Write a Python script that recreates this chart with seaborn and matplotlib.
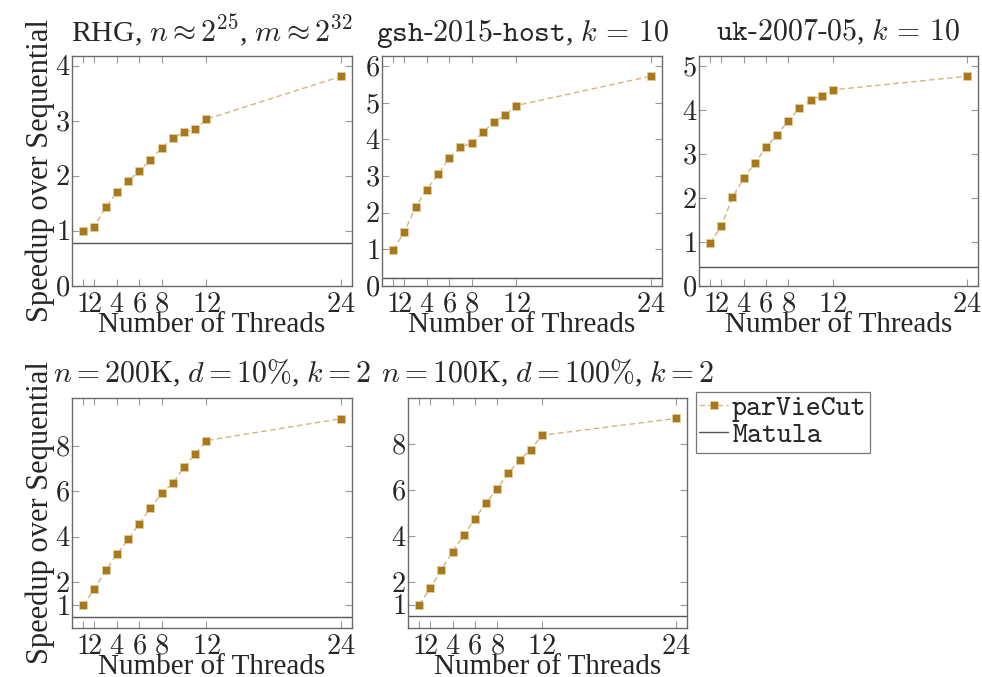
import matplotlib
matplotlib.use("Agg")
import matplotlib.pyplot as plt
import seaborn as sns
from matplotlib.lines import Line2D

# Thread counts and measured speedups over the sequential baseline
threads = [1, 2, 3, 4, 5, 6, 7, 8, 9, 10, 11, 12, 24]
xtick_vals = [1, 2, 4, 6, 8, 12, 24]

titles = [
    r"RHG, $n \approx 2^{25}$, $m \approx 2^{32}$",
    r"$\mathtt{gsh\text{-}2015\text{-}host}$, $k\,=\,10$",
    r"$\mathtt{uk\text{-}2007\text{-}05}$, $k\,=\,10$",
    r"$n = 200\mathrm{K}$, $d = 10\%$, $k = 2$",
    r"$n = 100\mathrm{K}$, $d = 100\%$, $k = 2$",
]

speedup_rhg = [1.00, 1.08, 1.43, 1.70, 1.90, 2.09, 2.29, 2.51, 2.69, 2.79, 2.85, 3.03, 3.81]
speedup_gsh = [0.99, 1.47, 2.15, 2.63, 3.04, 3.50, 3.78, 3.90, 4.19, 4.47, 4.66, 4.92, 5.72]
speedup_uk = [0.98, 1.36, 2.02, 2.45, 2.79, 3.15, 3.44, 3.76, 4.05, 4.23, 4.33, 4.46, 4.77]
speedup_200k = [1.00, 1.70, 2.53, 3.23, 3.90, 4.57, 5.26, 5.91, 6.35, 7.08, 7.63, 8.23, 9.19]
speedup_100k = [1.02, 1.72, 2.54, 3.32, 4.04, 4.76, 5.44, 6.06, 6.74, 7.30, 7.76, 8.38, 9.11]

matula = [0.78, 0.22, 0.43, 0.50, 0.53]

yticks = [
    [0, 1, 2, 3, 4],
    [0, 1, 2, 3, 4, 5, 6],
    [0, 1, 2, 3, 4, 5],
    [1, 2, 4, 6, 8],
    [1, 2, 4, 6, 8],
]
ymax = [4.18, 6.27, 5.23, 10.1, 10.0]

series = [speedup_rhg, speedup_gsh, speedup_uk, speedup_200k, speedup_100k]

sns.set_theme(style="white")
plt.rcParams["font.family"] = ["Liberation Serif", "DejaVu Serif"]
plt.rcParams["mathtext.fontset"] = "cm"

W, H = 982, 677
fig = plt.figure(figsize=(W / 100, H / 100), dpi=100)

# panel boxes in pixels: left, top, right, bottom
boxes = [
    (72, 56, 352, 286),
    (382, 56, 662, 286),
    (699, 56, 978, 286),
    (72, 398, 352, 628),
    (408, 398, 687, 628),
]

mark_color = "#a8781c"
mark_edge = "#e6cfa0"
line_color = "#d4b47c"
matula_color = "#555555"
spine_color = "#6a6a6a"
dash = (0, (4, 2.5))

for i, (l, t, r, b) in enumerate(boxes):
    ax = fig.add_axes([l / W, 1 - b / H, (r - l) / W, (b - t) / H])
    sns.lineplot(
        x=threads, y=series[i], ax=ax,
        color=line_color, linestyle=dash, linewidth=1.0,
        marker="s", markersize=5.3, markerfacecolor=mark_color,
        markeredgecolor=mark_edge, markeredgewidth=0.5,
    )
    ax.axhline(matula[i], color=matula_color, linewidth=1.0)
    ax.set_xlim(0, 25)
    ax.set_ylim(0, ymax[i])
    ax.set_xticks(xtick_vals, labels=[f"${v}$" for v in xtick_vals])
    ax.set_yticks(yticks[i], labels=[f"${v}$" for v in yticks[i]])
    ax.tick_params(axis="both", direction="in", length=5, width=0.8,
                   color="#9a9a9a", labelsize=20.5,
                   top=True, right=True, bottom=True, left=True)
    ax.tick_params(axis="x", pad=5)
    ax.tick_params(axis="y", pad=1.5)
    for sp in ax.spines.values():
        sp.set_color(spine_color)
        sp.set_linewidth(1.0)
    ax.set_title(titles[i], fontsize=21.5, pad=11)
    ax.set_xlabel("Number of Threads", fontsize=21, labelpad=-4.5)
    if i in (0, 3):
        ax.set_ylabel("Speedup over Sequential", fontsize=22, labelpad=0)
    else:
        ax.set_ylabel("")

handles = [
    Line2D([], [], color=line_color, linestyle=dash, linewidth=1.0,
           marker="s", markersize=5.3, markerfacecolor=mark_color,
           markeredgecolor=mark_edge, markeredgewidth=0.5),
    Line2D([], [], color=matula_color, linewidth=1.0),
]
leg = fig.legend(
    handles, ["parVieCut", "Matula"],
    loc="upper left", bbox_to_anchor=(696 / W, 1 - 392 / H),
    prop={"family": "cmtt10", "size": 20.5},
    frameon=True, fancybox=False, handlelength=1.0, handletextpad=0.15,
    borderpad=0.12, labelspacing=0.0, borderaxespad=0,
)
leg.get_frame().set_edgecolor("#555555")
leg.get_frame().set_linewidth(0.9)

fig.savefig("out.png", dpi=100)
